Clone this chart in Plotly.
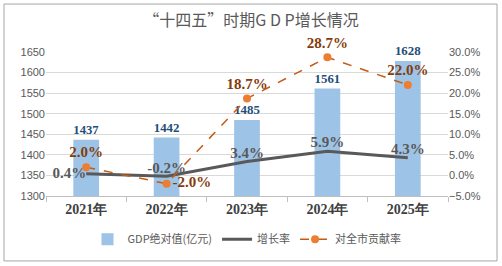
import plotly.graph_objects as go

years = ["2021年", "2022年", "2023年", "2024年", "2025年"]
gdp = [1437, 1442, 1485, 1561, 1628]
growth = [0.4, -0.2, 3.4, 5.9, 4.3]
contrib = [2.0, -2.0, 18.7, 28.7, 22.0]

serif = "Liberation Serif, Times New Roman, serif"
sans = "Noto Sans CJK SC, sans-serif"

fig = go.Figure()
fig.add_trace(go.Bar(
    x=years, y=gdp, name="GDP绝对值(亿元)", width=0.32,
    marker=dict(color="#9DC3E6", line=dict(width=0)),
    text=[str(v) for v in gdp], textposition="outside", cliponaxis=False,
    textfont=dict(family=serif, size=15, color="#1F4E79", weight="bold"),
))
fig.add_trace(go.Scatter(
    x=years, y=growth, name="增长率", yaxis="y2", mode="lines+text",
    line=dict(color="#595959", width=3),
    text=[f"{v:.1f}%" for v in growth],
    textposition=["middle left", "top center", "top center", "top center", "top center"],
    textfont=dict(family=serif, size=15, color="#595959", weight="bold"), cliponaxis=False,
))
fig.add_trace(go.Scatter(
    x=years, y=contrib, name="对全市贡献率", yaxis="y2", mode="lines+markers+text",
    line=dict(color="#C55A11", width=1.5, dash="dash"),
    marker=dict(color="#ED7D31", size=8),
    text=[f"{v:.1f}%" for v in contrib],
    textposition=["top center", "middle right", "top center", "top center", "top center"],
    textfont=dict(family=serif, size=15, color="#843C0C", weight="bold"), cliponaxis=False,
))

fig.update_layout(
    width=502, height=266,
    margin=dict(l=46, r=54, t=52, b=70, autoexpand=False),
    paper_bgcolor="white", plot_bgcolor="white",
    title=dict(text="“十四五”时期G D P增长情况", x=0.5, xanchor="center", y=0.925, yanchor="middle",
               font=dict(family=sans, size=16, color="#595959")),
    showlegend=True,
    legend=dict(orientation="h", x=0.5, xanchor="center", y=-0.3, yanchor="middle",
                font=dict(family=sans, size=11, color="#595959"), itemwidth=30,
                tracegroupgap=0),
    xaxis=dict(showline=True, linecolor="#BFBFBF", ticks="outside", tickson="boundaries",
               ticklen=5, tickcolor="#BFBFBF", automargin=False,
               tickfont=dict(family=serif, size=14, color="#404040", weight="bold")),
    yaxis=dict(range=[1300, 1650], dtick=50, showgrid=True, gridcolor="#D9D9D9",
               zeroline=False, automargin=False,
               tickfont=dict(family="Liberation Sans, Arial", size=11, color="#595959")),
    yaxis2=dict(range=[-5, 30], dtick=5, overlaying="y", side="right", showgrid=False,
                zeroline=False, ticksuffix="%", tickformat=".1f", automargin=False,
                tickfont=dict(family="Liberation Sans, Arial", size=11, color="#595959")),
    shapes=[dict(type="rect", xref="paper", yref="paper",
                 x0=-0.1045, x1=1.1219, y0=-0.451, y1=1.333,
                 line=dict(color="#A6A6A6", width=1))],
)

# the page's default body margin would shift the chart by 8px
fig.write_html("out.html", config={"displayModeBar": False},
               post_script="document.body.style.margin='0';")
